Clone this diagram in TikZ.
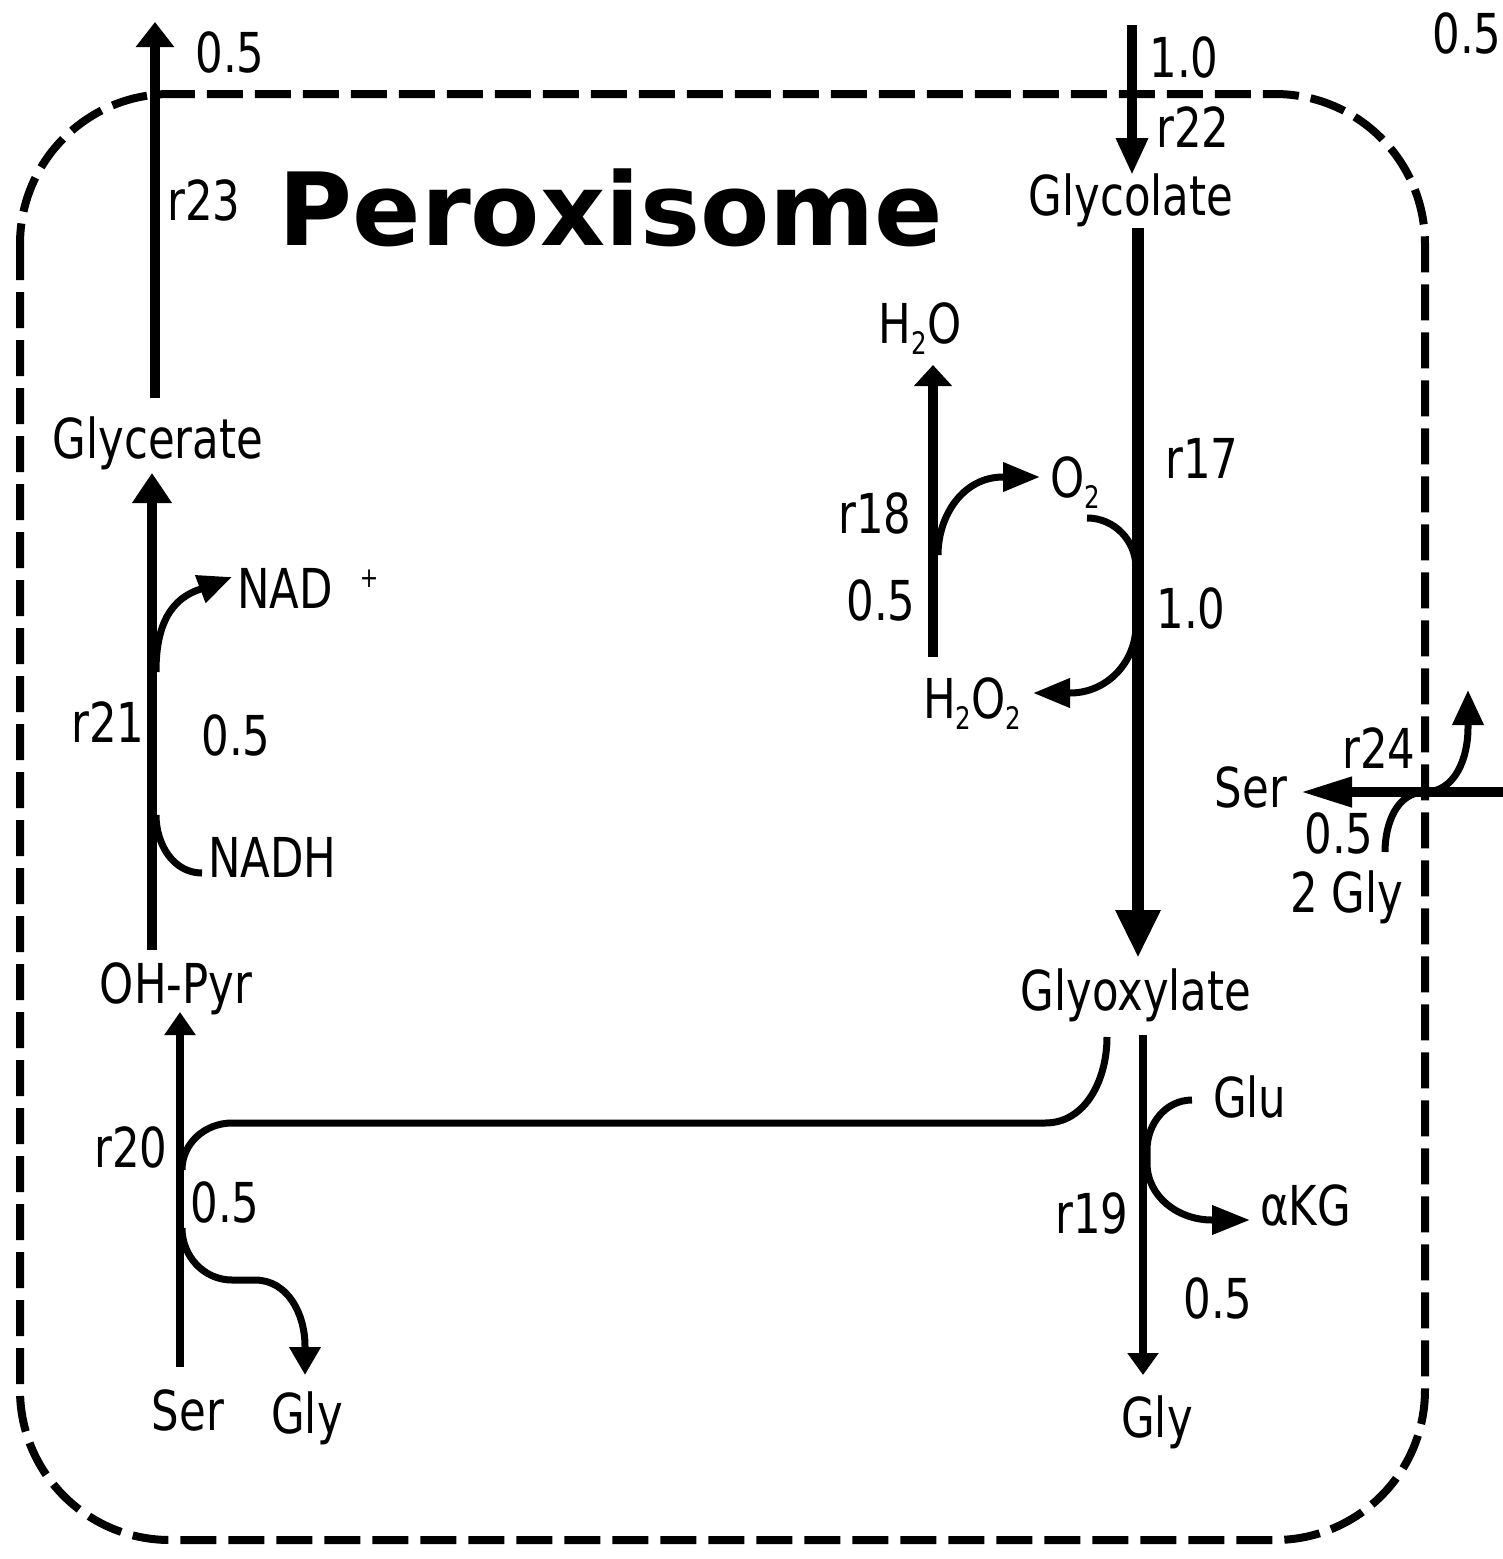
\documentclass[tikz,border=0pt]{standalone}
\usepackage{fontspec}
\setmainfont{DejaVu Sans}[FakeStretch=0.79]
\newfontfamily\titlefont{DejaVu Sans}
\usetikzlibrary{arrows.meta}
\newcommand{\chsub}[1]{\raisebox{-11pt}{\fontsize{31}{33}\selectfont #1}}
\begin{document}
\begin{tikzpicture}[x=1pt,y=-1pt,
  lbl/.style={inner sep=0pt, anchor=base, font=\fontsize{55}{60}\selectfont},
  lblw/.style={lbl, anchor=base west},
  flux/.style={line width=10pt},
  sidearr/.style={line width=7pt},
  border/.style={line width=8pt, dash pattern=on 36pt off 12pt, rounded corners=150pt},
]
\useasboundingbox (0,0) rectangle (1503,1559);
\fill[white] (0,0) rectangle (1503,1559);

% compartment
\draw[border] (20,94) rectangle (1425,1540);

% labels
\node[lbl] (f23) at (230,72) {0.5};
\node[lbl] (f22) at (1184,77) {1.0};
\node[lbl] (r22) at (1193,147) {r22};
\node[lbl] (f24) at (1467,53) {0.5};
\node[lbl] (glycolate) at (1131,215) {Glycolate};
\node[lbl] (r23) at (204,220) {r23};
\node[inner sep=0pt, anchor=base, font=\fontsize{101}{110}\titlefont\bfseries] (title) at (611,245) {Peroxisome};
\node[lbl] (h2o) at (920,343) {H\chsub{2}O};
\node[lbl] (r17) at (1202,478) {r17};
\node[lbl] (r18) at (875,533) {r18};
\node[lblw] (o2) at (1050,497) {O\chsub{2}};
\node[lbl] (f18) at (881,620) {0.5};
\node[lbl] (f17) at (1191,628) {1.0};
\node[lblw] (h2o2) at (923,718) {H\chsub{2}O\chsub{2}};
\node[lbl] (glycerate) at (158,458) {Glycerate};
\node[lblw] (nad) at (237,608) {NAD\hspace{27pt}\raisebox{21pt}{\fontsize{28}{30}\selectfont +}};
\node[lbl] (r21) at (108,742) {r21};
\node[lbl] (f21) at (236,755) {0.5};
\node[lblw] (nadh) at (208,877) {NADH};
\node[lbl] (ohpyr) at (176,1003) {OH-Pyr};
\node[lbl] (r20) at (131,1167) {r20};
\node[lbl] (f20) at (225,1222) {0.5};
\node[lbl] (ser1) at (188,1430) {Ser};
\node[lbl] (gly1) at (307,1433) {Gly};
\node[lbl] (glyoxylate) at (1136,1010) {Glyoxylate};
\node[lblw] (glu) at (1213,1117) {Glu};
\node[lblw] (akg) at (1260,1225) {αKG};
\node[lbl] (r19) at (1092,1233) {r19};
\node[lbl] (f19) at (1218,1318) {0.5};
\node[lbl] (gly2) at (1157,1437) {Gly};
\node[lbl] (r24) at (1379,768) {r24};
\node[lbl] (ser2) at (1251,807) {Ser};
\node[lbl] (f24b) at (1339,853) {0.5};
\node[lbl] (gly3) at (1347,912) {2 Gly};

% coordinates
\coordinate (p23a) at (155,398);  \coordinate (p23b) at (155,22);
\coordinate (p22a) at (1132,25);  \coordinate (p22b) at (1132,175);
\coordinate (p17a) at (1138,228); \coordinate (p17b) at (1138,958);
\coordinate (p18a) at (933,657);  \coordinate (p18b) at (933,365);
\coordinate (p21a) at (152,950);  \coordinate (p21b) at (152,473);
\coordinate (p20a) at (180,1367); \coordinate (p20b) at (180,1012);
\coordinate (p19a) at (1143,1035);\coordinate (p19b) at (1143,1375);
\coordinate (p24a) at (1503,792); \coordinate (p24b) at (1300,792);

% main fluxes
\draw[flux,-{Triangle[length=25pt,width=37pt]}] (p23a) -- (p23b);
\draw[flux,-{Triangle[length=37pt,width=30pt]}] (p22a) -- (p22b);
\draw[line width=12pt,-{Triangle[length=48pt,width=42pt]}] (p17a) -- (p17b);
\draw[flux,-{Triangle[length=21pt,width=37pt]}] (p18a) -- (p18b);
\draw[flux,-{Triangle[length=30pt,width=38pt]}] (p21a) -- (p21b);
\draw[line width=8pt,-{Triangle[length=23pt,width=30pt]}] (p20a) -- (p20b);
\draw[line width=8pt,-{Triangle[length=22pt,width=30pt]}] (p19a) -- (p19b);
\draw[flux,-{Triangle[length=52pt,width=28pt]}] (p24a) -- (p24b);

% side reactions
\draw[sidearr,-{Triangle[length=37pt,width=28pt]}] (938,555) to[out=90,in=180] (1003,477) -- (1040,477);
\draw[sidearr,-{Triangle[length=37pt,width=28pt]}] (1087,518) to[out=0,in=90] (1136,568) -- (1136,625) to[out=-90,in=0] (1070,693) -- (1033,693);
\draw[sidearr,-{Triangle[length=34pt,width=28pt]}] (156,672) to[out=90,in=200] (198,590) -- (232,577);
\draw[sidearr] (156,815) to[out=-90,in=180] (202,873);
\draw[sidearr] (1107,1037) to[out=-90,in=0] (1045,1123) -- (232,1123) to[out=180,in=90] (182,1170);
\draw[sidearr,-{Triangle[length=28pt,width=30pt]}] (182,1228) to[out=-90,in=180] (232,1280) -- (255,1280) to[out=0,in=90] (305,1346) -- (305,1375);
\draw[sidearr,-{Triangle[length=38pt,width=28pt]}] (1192,1100) to[out=180,in=90] (1147,1150) -- (1147,1163) to[out=-90,in=180] (1212,1220) -- (1250,1220);
\draw[sidearr,-{Triangle[length=35pt,width=30pt]}] (1385,852) to[out=90,in=180] (1425,792) to[out=0,in=-90] (1468,728) -- (1468,690);
\end{tikzpicture}
\end{document}
